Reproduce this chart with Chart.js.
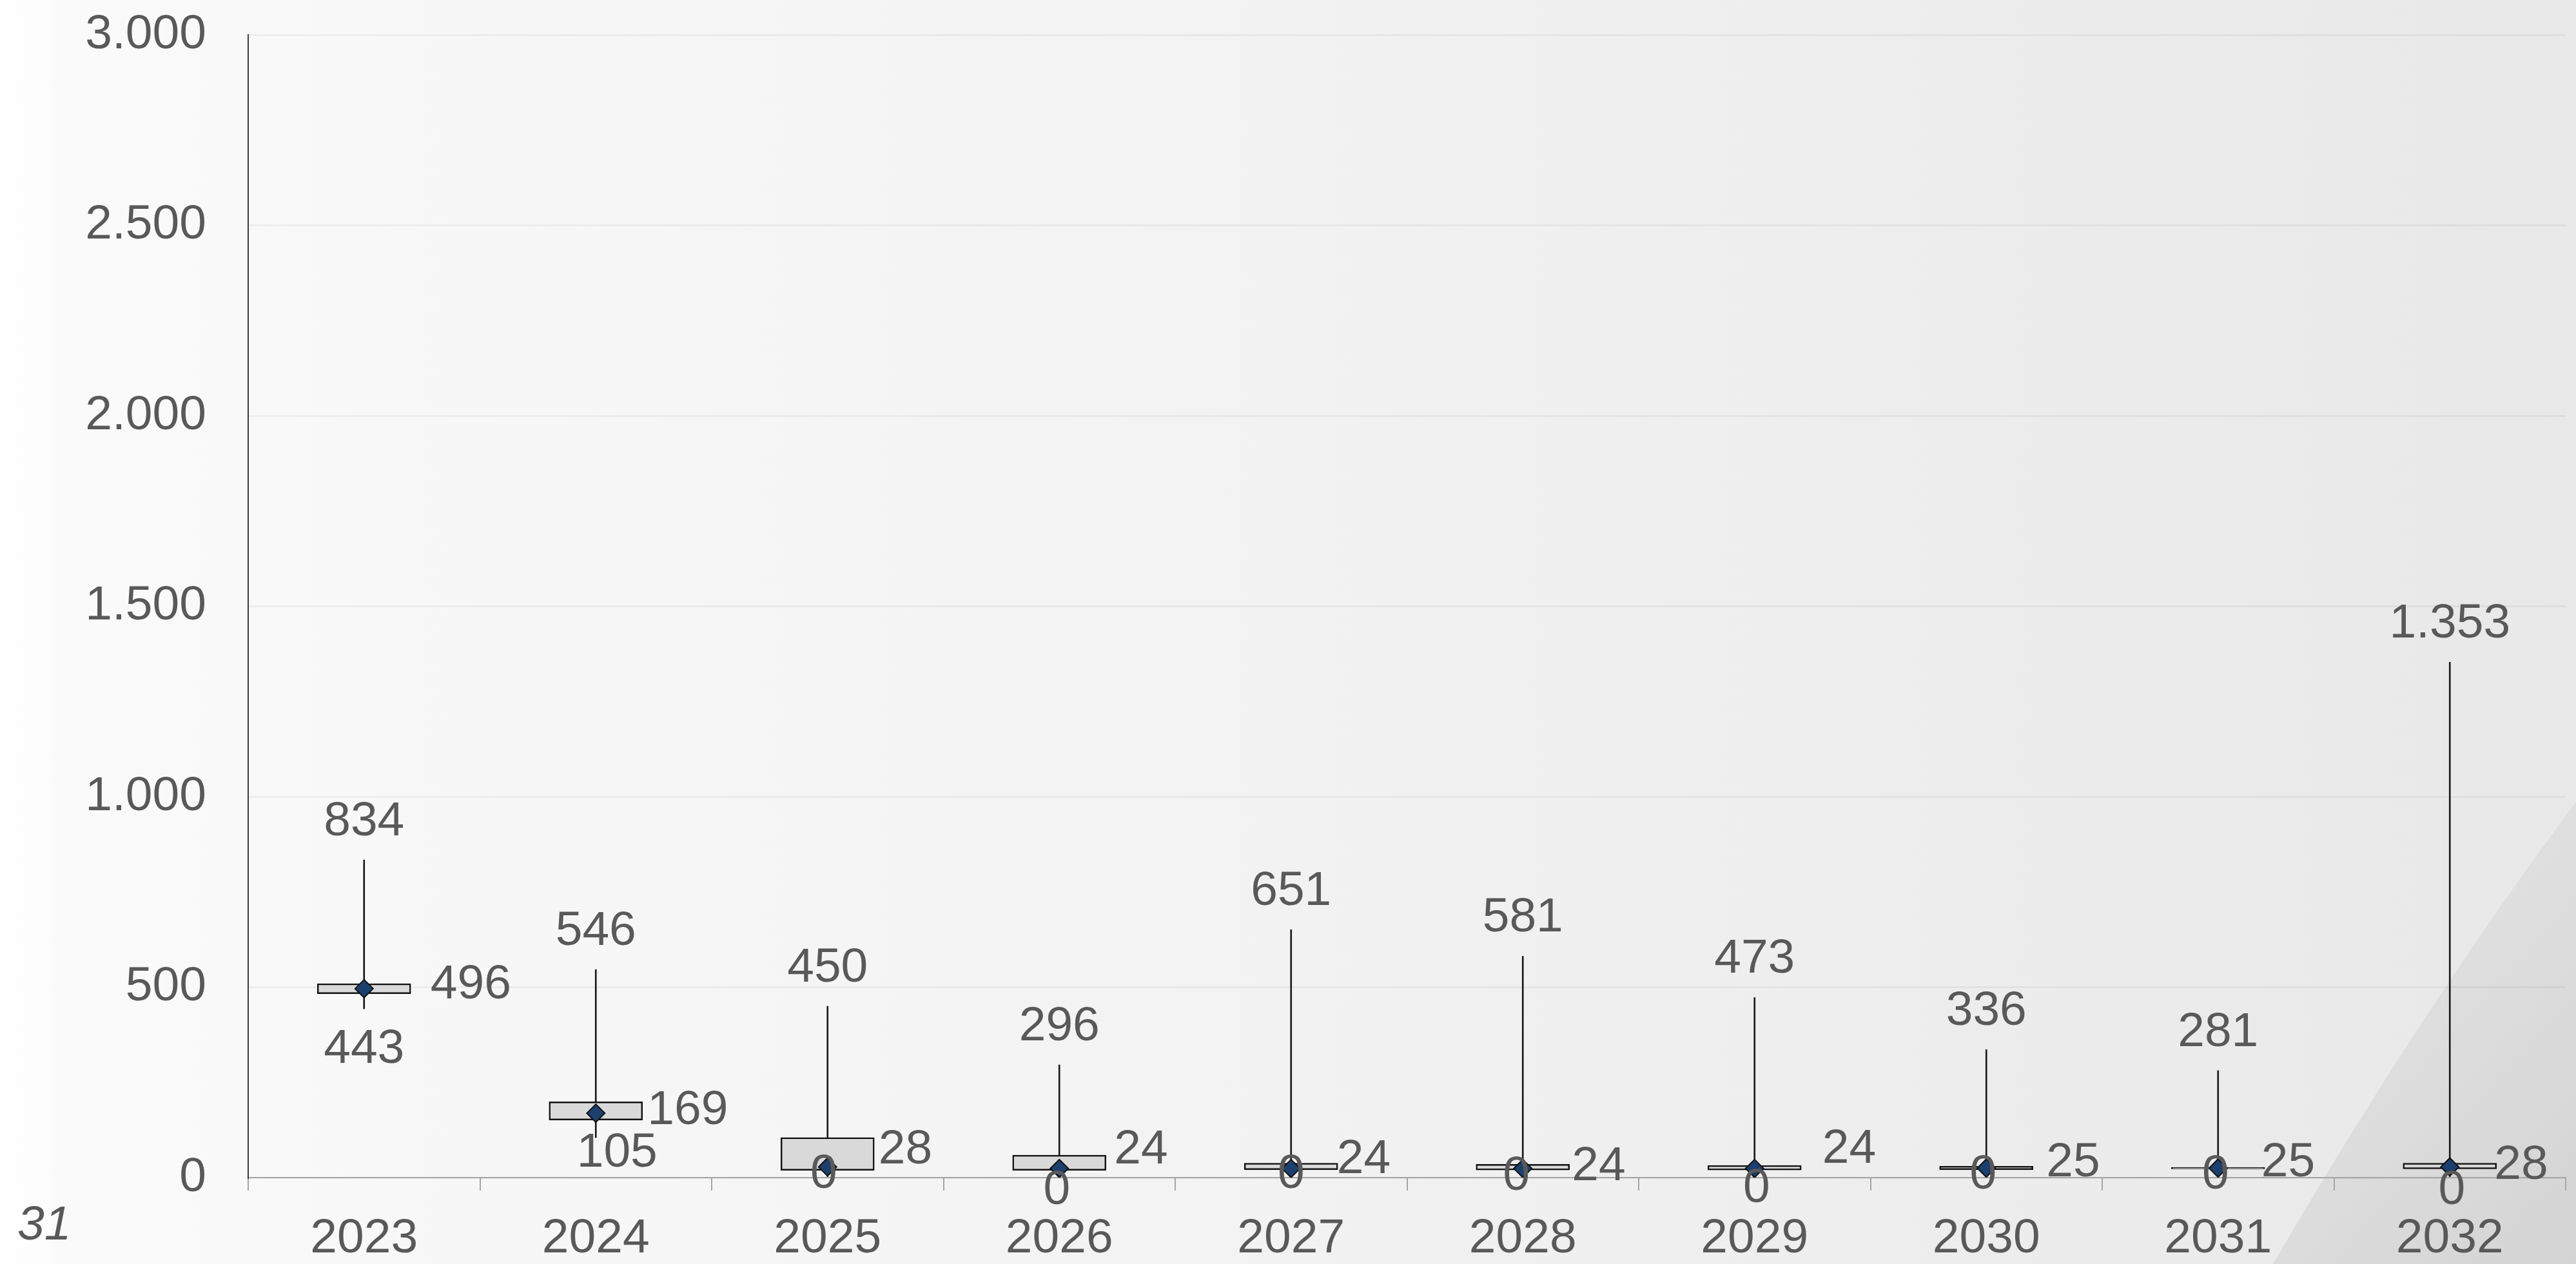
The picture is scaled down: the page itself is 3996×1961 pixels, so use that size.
<!DOCTYPE html>
<html>
<head>
<meta charset="utf-8">
<title>Boxplot 2023-2032</title>
<script src="https://cdn.jsdelivr.net/npm/chart.js@4.4.1/dist/chart.umd.min.js"></script>
<style>
    html, body { margin: 0; padding: 0; background: #f4f4f4; }
    canvas { display: block; }
</style>
</head>
<body>
<canvas id="boxChart" width="3996" height="1961"></canvas>
<script>
// ================================
// Data
// ================================

const years = ["2023", "2024", "2025", "2026", "2027", "2028", "2029", "2030", "2031", "2032"];
const minVals = [443, 105, 0, 0, 0, 0, 0, 0, 0, 0];
const q1Vals = [483, 151, 19, 19, 21, 20, 20, 21, 23, 23];
const q3Vals = [509, 199, 105, 59, 38, 35, 32, 30, 27, 38];
const maxVals = [834, 546, 450, 296, 651, 581, 473, 336, 281, 1353];
const meanVals = [496, 169, 28, 24, 24, 24, 24, 25, 25, 28];
const yTicks = [0, 500, 1000, 1500, 2000, 2500, 3000];
const cornerNote = "31";

// ================================
// Helpers
// ================================

const FONT = "'Liberation Sans', Arial, sans-serif";
const TEXT = "#595959";
const SIZE = 75;

function fmt(v) {
    return String(v).replace(/\B(?=(\d{3})+(?!\d))/g, ".");
}

// label nudges (pixels), the source chart shifts some labels around
const minNudgeX = [0, 33, -6, -4, 0, -10, 3, -5, -4, 3];
const minNudgeY = [63, 24, -5, 20, -5, -2, 17, -4, -4, 20];
const meanNudgeX = [103, 80, 79, 85, 71, 76, 105, 93, 67, 69];
const meanNudgeY = [-6, -4, -26, -29, -14, -3, -30, -8, -8, -2];

// ================================
// Plugins
// ================================

const backdrop = {
    id: "backdrop",
    beforeDraw(chart) {
        const ctx = chart.ctx;
        const w = chart.width, h = chart.height;
        ctx.save();
        const g = ctx.createLinearGradient(0, 0, w, 0);
        g.addColorStop(0, "#fefefe");
        g.addColorStop(0.019, "#fdfdfd");
        g.addColorStop(0.021, "#fafafa");
        g.addColorStop(0.5, "#f2f2f2");
        g.addColorStop(1, "#e8e8e8");
        ctx.fillStyle = g;
        ctx.fillRect(0, 0, w, h);

        // page curl bottom right
        const c = ctx.createLinearGradient(3600, 1600, 3996, 1961);
        c.addColorStop(0, "#e0e0e0");
        c.addColorStop(1, "#d4d4d4");
        ctx.beginPath();
        ctx.moveTo(3526, h);
        ctx.quadraticCurveTo(3760, 1560, w, 1244);
        ctx.lineTo(w, h);
        ctx.closePath();
        ctx.fillStyle = c;
        ctx.fill();
        ctx.restore();
    }
};

const valueLabels = {
    id: "valueLabels",
    afterDatasetsDraw(chart) {
        const ctx = chart.ctx;
        const x = chart.scales.x;
        const y = chart.scales.y;
        ctx.save();
        ctx.font = SIZE + "px " + FONT;
        ctx.fillStyle = TEXT;
        ctx.textBaseline = "middle";

        years.forEach((yr, i) => {
            const cx = x.getPixelForValue(i);

            ctx.textAlign = "center";
            ctx.fillText(fmt(maxVals[i]), cx, y.getPixelForValue(maxVals[i]) - 59);
            ctx.fillText(fmt(minVals[i]), cx + minNudgeX[i], y.getPixelForValue(minVals[i]) + minNudgeY[i]);

            ctx.textAlign = "left";
            ctx.fillText(fmt(meanVals[i]), cx + meanNudgeX[i], y.getPixelForValue(meanVals[i]) + meanNudgeY[i]);
        });

        ctx.restore();
    },
    afterDraw(chart) {
        const ctx = chart.ctx;
        ctx.save();
        ctx.font = "italic " + SIZE + "px " + FONT;
        ctx.fillStyle = TEXT;
        ctx.textAlign = "left";
        ctx.textBaseline = "middle";
        ctx.fillText(cornerNote, 27, 1902);
        ctx.restore();
    }
};

// ================================
// Chart
// ================================

Chart.defaults.font.family = FONT;
Chart.defaults.font.size = SIZE;
Chart.defaults.color = TEXT;

const ctx = document.getElementById("boxChart").getContext("2d");

const chart = new Chart(ctx, {
    type: "bar",
    data: {
        labels: years,
        datasets: [
            {
                label: "Mittelwert",
                type: "line",
                data: meanVals,
                showLine: false,
                pointStyle: "rectRot",
                pointRadius: 14,
                pointBackgroundColor: "#1c3f6e",
                pointBorderColor: "#111111",
                pointBorderWidth: 2,
                order: 1
            },
            {
                label: "Box",
                data: years.map((_, i) => [q1Vals[i], q3Vals[i]]),
                backgroundColor: "#d9d9d9",
                borderColor: "#111111",
                borderWidth: 2.5,
                borderSkipped: false,
                barThickness: 145,
                grouped: false,
                order: 2
            },
            {
                label: "Spanne",
                data: years.map((_, i) => [minVals[i], maxVals[i]]),
                backgroundColor: "#1a1a1a",
                borderWidth: 0,
                barThickness: 2,
                grouped: false,
                order: 3
            }
        ]
    },
    options: {
        responsive: false,
        devicePixelRatio: 1,
        animation: false,
        layout: {
            padding: { top: 54, right: 11, left: 0, bottom: 0 }
        },
        plugins: {
            legend: { display: false },
            tooltip: { enabled: false }
        },
        scales: {
            x: {
                offset: true,
                afterFit: (scale) => {
                    scale.height = 134;
                    scale.paddingLeft = 0;
                    scale.paddingRight = 0;
                },
                grid: {
                    offset: true,
                    drawOnChartArea: false,
                    drawTicks: true,
                    tickLength: 20,
                    color: "#a6a6a6",
                    lineWidth: 2
                },
                border: { color: "#a6a6a6", width: 2 },
                ticks: { padding: 30, color: TEXT }
            },
            y: {
                min: 0,
                max: 3000,
                afterBuildTicks: (scale) => {
                    scale.ticks = yTicks.map(v => ({ value: v }));
                },
                afterFit: (scale) => {
                    scale.width = 385;
                    scale.paddingTop = 0;
                    scale.paddingBottom = 0;
                },
                grid: {
                    color: "rgba(0,0,0,0.045)",
                    lineWidth: 3,
                    drawTicks: false
                },
                border: { color: "#3a3a3a", width: 2 },
                ticks: {
                    padding: 65,
                    color: TEXT,
                    callback: (v) => fmt(v)
                }
            }
        }
    },
    plugins: [backdrop, valueLabels]
});
</script>
</body>
</html>
